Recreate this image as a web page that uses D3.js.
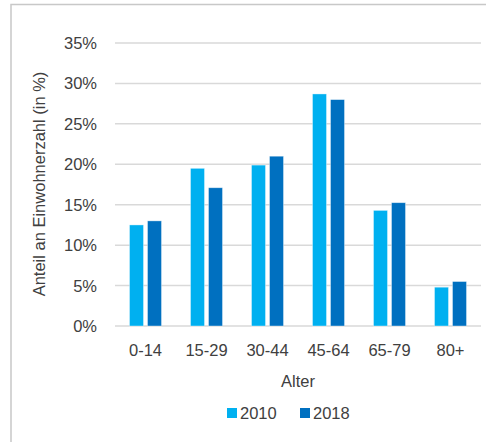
<!DOCTYPE html>
<html>
<head>
<meta charset="utf-8">
<script src="https://cdn.jsdelivr.net/npm/d3@7"></script>
<style>
  html, body { margin: 0; padding: 0; background: #fff; }
  svg { display: block; }
</style>
</head>
<body>
<svg id="chart"></svg>
<script>
// data
var categories = ["0-14", "15-29", "30-44", "45-64", "65-79", "80+"];
var seriesNames = ["2010", "2018"];
var values2010 = [12.5, 19.5, 19.9, 28.7, 14.3, 4.8];
var values2018 = [13.0, 17.1, 21.0, 28.0, 15.25, 5.5];
var yTicks = [0, 5, 10, 15, 20, 25, 30, 35];

var colors = ["#00B0F0", "#0070C0"];
var font = "'Liberation Sans', Arial, sans-serif";
var textColor = "#404040";

var W = 486, H = 442;
var plot = {left: 115, right: 481, top: 43, bottom: 326};

var svg = d3.select("#chart").attr("width", W).attr("height", H);

// outer frame (only top + left visible in the crop)
svg.append("path")
    .attr("d", "M11," + H + "V4.5H" + W)
    .attr("fill", "none")
    .attr("stroke", "#c8c8c8")
    .attr("stroke-width", 1.5);

var x = d3.scaleBand().domain(categories).range([plot.left, plot.right]).paddingInner(0).paddingOuter(0);
var y = d3.scaleLinear().domain([0, 35]).range([plot.bottom, plot.top]);

// gridlines
svg.append("g").selectAll("line")
    .data(yTicks)
    .join("line")
    .attr("x1", plot.left)
    .attr("x2", plot.right)
    .attr("y1", function(d) { return y(d); })
    .attr("y2", function(d) { return y(d); })
    .attr("stroke", "#d9d9d9")
    .attr("stroke-width", 1.5);

// y tick labels
svg.append("g").selectAll("text")
    .data(yTicks)
    .join("text")
    .attr("x", 97)
    .attr("y", function(d) { return y(d) + 6; })
    .attr("text-anchor", "end")
    .attr("font-family", font)
    .attr("font-size", "16.5px")
    .attr("fill", textColor)
    .text(function(d) { return d + "%"; });

// bars
var barW = 14, gap = 4;
var series = [values2010, values2018];
series.forEach(function(vals, si) {
  svg.append("g").selectAll("rect")
      .data(vals)
      .join("rect")
      .attr("x", function(d, i) {
        var c = x(categories[i]) + x.bandwidth() / 2;
        return si === 0 ? c - gap / 2 - barW : c + gap / 2;
      })
      .attr("y", function(d) { return y(d); })
      .attr("width", barW)
      .attr("height", function(d) { return y(0) - y(d); })
      .attr("fill", colors[si])
      .attr("stroke", "#ffffff")
      .attr("stroke-opacity", 0.5)
      .attr("stroke-width", 0.75);
});

// x labels
svg.append("g").selectAll("text")
    .data(categories)
    .join("text")
    .attr("x", function(d) { return x(d) + x.bandwidth() / 2; })
    .attr("y", 356)
    .attr("text-anchor", "middle")
    .attr("font-family", font)
    .attr("font-size", "16.5px")
    .attr("fill", textColor)
    .text(function(d) { return d; });

// axis titles
svg.append("text")
    .attr("x", (plot.left + plot.right) / 2)
    .attr("y", 387)
    .attr("text-anchor", "middle")
    .attr("font-family", font)
    .attr("font-size", "16.5px")
    .attr("fill", textColor)
    .text("Alter");

svg.append("text")
    .attr("transform", "translate(45,184) rotate(-90)")
    .attr("text-anchor", "middle")
    .attr("font-family", font)
    .attr("font-size", "16.5px")
    .attr("fill", textColor)
    .text("Anteil an Einwohnerzahl (in %)");

// legend
var legendX = [227, 300];
seriesNames.forEach(function(name, i) {
  svg.append("rect")
      .attr("x", legendX[i])
      .attr("y", 408)
      .attr("width", 10)
      .attr("height", 10)
      .attr("fill", colors[i]);
  svg.append("text")
      .attr("x", legendX[i] + 13)
      .attr("y", 419)
      .attr("font-family", font)
      .attr("font-size", "16.5px")
      .attr("fill", textColor)
      .text(name);
});
</script>
</body>
</html>
